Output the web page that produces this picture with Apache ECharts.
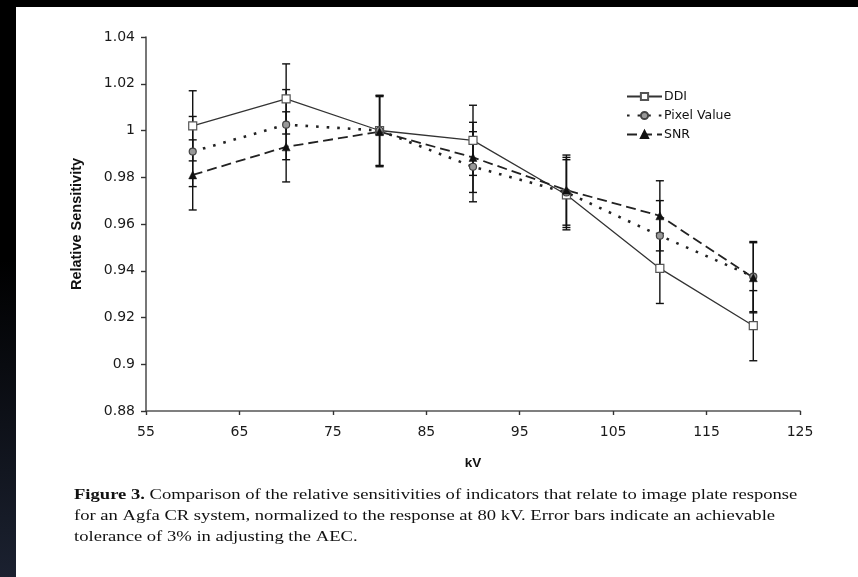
<!DOCTYPE html>
<html>
<head>
<meta charset="utf-8">
<script src="https://cdn.jsdelivr.net/npm/echarts@6/dist/echarts.min.js"></script>
<style>
  html, body { margin: 0; padding: 0; width: 858px; height: 577px; overflow: hidden; }
  body { background: linear-gradient(to bottom, #000 0%, #000 45%, #1b2130 100%); position: relative; }
  #paper { position: absolute; left: 16px; top: 7px; right: 0; bottom: 0; background: #fff; }
  #chart { position: absolute; left: 0; top: 0; width: 858px; height: 577px; }
</style>
</head>
<body>
<div id="paper"></div>
<div id="chart"></div>
<script>
// ---- data ----
const kV = [60, 70, 80, 90, 100, 110, 120];
const ddi = [1.002, 1.0135, 1.000, 0.9958, 0.9725, 0.941, 0.9165];
const pixelValue = [0.991, 1.0025, 1.000, 0.9845, 0.9735, 0.955, 0.9375];
const snr = [0.981, 0.993, 0.9995, 0.9885, 0.9745, 0.9635, 0.937];
const ddiErr = [0.015, 0.015, 0.015, 0.015, 0.015, 0.015, 0.015];
const pixelErr = [0.015, 0.015, 0.015, 0.015, 0.015, 0.015, 0.015];
const snrErr = [0.015, 0.015, 0.015, 0.015, 0.015, 0.015, 0.015];
const seriesNames = ['DDI', 'Pixel Value', 'SNR'];
const xAxisName = 'kV';
const yAxisName = 'Relative Sensitivity';
const captionLines = [
  ['Figure 3.', ' Comparison of the relative sensitivities of indicators that relate to image plate response'],
  ['', 'for an Agfa CR system, normalized to the response at 80 kV. Error bars indicate an achievable'],
  ['', 'tolerance of 3% in adjusting the AEC.']
];

const chart = echarts.init(document.getElementById('chart'), null, { renderer: 'canvas' });

function pairs(vals) { return kV.map((k, i) => [k, vals[i]]); }

function errorSeries(vals, errs) {
  return {
    type: 'custom',
    silent: true,
    z: 1,
    encode: { x: 0, y: [1, 2] },
    data: kV.map((k, i) => [k, vals[i] - errs[i], vals[i] + errs[i]]),
    renderItem: function (params, api) {
      const x = api.value(0);
      const lo = api.coord([x, api.value(1)]);
      const hi = api.coord([x, api.value(2)]);
      const w = 4;
      const st = { stroke: '#111', lineWidth: 1.4 };
      return {
        type: 'group',
        children: [
          { type: 'line', shape: { x1: lo[0], y1: lo[1], x2: hi[0], y2: hi[1] }, style: st },
          { type: 'line', shape: { x1: lo[0] - w, y1: lo[1], x2: lo[0] + w, y2: lo[1] }, style: st },
          { type: 'line', shape: { x1: hi[0] - w, y1: hi[1], x2: hi[0] + w, y2: hi[1] }, style: st }
        ]
      };
    }
  };
}

const tickFont = { fontFamily: 'DejaVu Sans', fontSize: 14, color: '#1a1a1a' };

const option = {
  animation: false,
  backgroundColor: 'transparent',
  grid: { left: 146, right: 58, top: 37, bottom: 166 },
  legend: {
    data: seriesNames,
    orient: 'vertical',
    left: 621,
    top: 85,
    itemWidth: 35,
    itemHeight: 9,
    itemGap: 6,
    textStyle: { fontFamily: 'DejaVu Sans', fontSize: 12.5, color: '#111', padding: [0, 0, 0, -3] }
  },
  xAxis: {
    type: 'value',
    min: 55, max: 125, interval: 10,
    name: xAxisName,
    nameLocation: 'middle',
    nameGap: 45,
    nameTextStyle: { fontFamily: 'Liberation Sans', fontWeight: 'bold', fontSize: 13.5, color: '#111' },
    axisLine: { show: true, lineStyle: { color: '#555', width: 1.6 } },
    axisTick: { show: true, length: 4, lineStyle: { color: '#333', width: 1.4 } },
    axisLabel: Object.assign({ margin: 14 }, tickFont),
    splitLine: { show: false }
  },
  yAxis: {
    type: 'value',
    min: 0.88, max: 1.04, interval: 0.02,
    name: yAxisName,
    nameLocation: 'middle',
    nameGap: 62,
    nameRotate: 90,
    nameTextStyle: { fontFamily: 'Liberation Sans', fontWeight: 'bold', fontSize: 14.5, color: '#111' },
    axisLine: { show: true, lineStyle: { color: '#555', width: 1.6 } },
    axisTick: { show: true, length: 5, lineStyle: { color: '#333', width: 1.4 } },
    axisLabel: Object.assign({ margin: 11, formatter: v => String(Number(v.toFixed(2))) }, tickFont),
    splitLine: { show: false }
  },
  graphic: captionLines.map((ln, i) => ({
    type: 'text',
    x: 74,
    y: 488 + i * 21,
    scaleX: 1.24,
    scaleY: 1,
    style: {
      text: (ln[0] ? '{b|' + ln[0] + '}' : '') + ln[1],
      font: '15px "Liberation Serif"',
      fill: '#111',
      rich: { b: { fontFamily: 'Liberation Serif', fontWeight: 'bold', fontSize: 15, fill: '#111' } }
    }
  })),
  series: [
    errorSeries(ddi, ddiErr),
    errorSeries(pixelValue, pixelErr),
    errorSeries(snr, snrErr),
    {
      name: seriesNames[0], type: 'line', z: 3, data: pairs(ddi),
      symbol: 'rect', symbolSize: 8,
      itemStyle: { color: '#fff', borderColor: '#555', borderWidth: 1.2 },
      lineStyle: { color: '#333', width: 1.3, type: 'solid' }
    },
    {
      name: seriesNames[1], type: 'line', z: 3, data: pairs(pixelValue),
      symbol: 'circle', symbolSize: 7,
      itemStyle: { color: '#999', borderColor: '#444', borderWidth: 1.2 },
      lineStyle: { color: '#222', width: 2.6, type: [2.6, 8] }
    },
    {
      name: seriesNames[2], type: 'line', z: 3, data: pairs(snr),
      symbol: 'triangle', symbolSize: 8,
      itemStyle: { color: '#111', borderColor: '#111', borderWidth: 0.5 },
      lineStyle: { color: '#222', width: 1.8, type: [10, 5] }
    }
  ]
};
chart.setOption(option);
</script>
</body>
</html>
